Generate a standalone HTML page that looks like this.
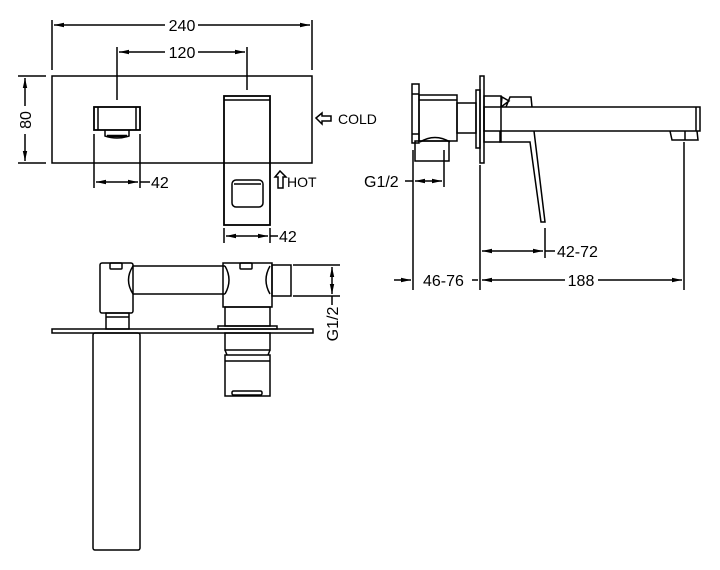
<!DOCTYPE html>
<html><head><style>
html,body{margin:0;padding:0;background:#fff;}
svg{display:block;}
text{font-family:"Liberation Sans",sans-serif;font-size:16px;fill:#000;}
</style></head><body>
<svg width="720" height="570" viewBox="0 0 720 570" xmlns="http://www.w3.org/2000/svg">
<defs>
<marker id="a" markerWidth="10" markerHeight="6" refX="10" refY="3" orient="auto-start-reverse" markerUnits="userSpaceOnUse"><path d="M0,0.8 L10,3 L0,5.2z" fill="#000"/></marker>
</defs>
<g stroke="#000" stroke-width="1.5" fill="none">
<!-- TOP VIEW -->
<rect x="52" y="76" width="260" height="87"/>
<line x1="52" y1="20" x2="52" y2="70"/><line x1="312" y1="20" x2="312" y2="70"/>
<line x1="54" y1="25" x2="165" y2="25" marker-start="url(#a)"/><line x1="198" y1="25" x2="310" y2="25" marker-end="url(#a)"/>
<line x1="117" y1="47" x2="117" y2="100"/><line x1="247" y1="47" x2="247" y2="90"/>
<line x1="119" y1="52" x2="165" y2="52" marker-start="url(#a)"/><line x1="198" y1="52" x2="245" y2="52" marker-end="url(#a)"/>
<line x1="18" y1="76" x2="46" y2="76"/><line x1="18" y1="163" x2="46" y2="163"/>
<line x1="25" y1="78" x2="25" y2="106" marker-start="url(#a)"/><line x1="25" y1="134" x2="25" y2="161" marker-end="url(#a)"/>
<rect x="94" y="107" width="46" height="23" stroke-width="1.8"/>
<line x1="98" y1="107" x2="98" y2="130"/><line x1="136" y1="107" x2="136" y2="130"/>
<path d="M105,130 V136 Q117,140 129,136 V130"/>
<path d="M107,136 H127" stroke-width="2.5"/>
<line x1="94" y1="134" x2="94" y2="188"/><line x1="140" y1="134" x2="140" y2="188"/>
<line x1="96" y1="182" x2="138" y2="182" marker-start="url(#a)" marker-end="url(#a)"/><line x1="140" y1="182" x2="150" y2="182"/>
<rect x="224" y="96" width="46" height="129" stroke-width="1.8"/>
<line x1="224" y1="100" x2="270" y2="100"/>
<rect x="232" y="180" width="31" height="27" rx="4"/>
<line x1="234" y1="184" x2="261" y2="184"/>
<line x1="224" y1="228" x2="224" y2="243"/><line x1="270" y1="228" x2="270" y2="243"/>
<line x1="226" y1="236" x2="268" y2="236" marker-start="url(#a)" marker-end="url(#a)"/><line x1="270" y1="236" x2="278" y2="236"/>
<path d="M316,118 L322,113 V116 H331 V121 H322 V124 Z"/>
<path d="M280,171 L275,177 H278 V188 H283 V177 H286 Z"/>
<!-- SIDE VIEW -->
<rect x="412" y="84" width="7" height="59"/>
<line x1="412" y1="94" x2="419" y2="94"/><line x1="412" y1="134" x2="419" y2="134"/>
<rect x="415" y="141" width="34" height="20"/>
<path d="M420,142 Q435,133 450,142"/>
<rect x="419" y="95" width="38" height="46"/>
<line x1="419" y1="100" x2="457" y2="100"/>
<rect x="457" y="103" width="19" height="30"/>
<rect x="476" y="90" width="4" height="58"/>
<rect x="480" y="76" width="4" height="87"/>
<rect x="484" y="96" width="17" height="46"/>
<rect x="484" y="107" width="216" height="24"/>
<line x1="696" y1="107" x2="696" y2="131"/>
<path d="M501,107 L502,97 L509,101 L501,107"/>
<path d="M506,107 L510,97 H531 L532,107"/>
<path d="M500,131 V142 H530 L541,222 H545 L534,131"/>
<path d="M670,131 L672,140 H698 L697,131"/>
<line x1="685" y1="131" x2="685" y2="140"/>
<line x1="413" y1="150" x2="413" y2="290"/><line x1="444" y1="150" x2="444" y2="187"/>
<line x1="415" y1="181" x2="442" y2="181" marker-start="url(#a)" marker-end="url(#a)"/><line x1="405" y1="181" x2="413" y2="181"/>
<line x1="480" y1="165" x2="480" y2="290"/><line x1="545" y1="228" x2="545" y2="258"/>
<line x1="482" y1="251" x2="543" y2="251" marker-start="url(#a)" marker-end="url(#a)"/><line x1="545" y1="251" x2="555" y2="251"/>
<line x1="684" y1="142" x2="684" y2="290"/>
<line x1="394" y1="280" x2="411" y2="280" marker-end="url(#a)"/>
<line x1="472" y1="280" x2="478" y2="280"/>
<line x1="482" y1="280" x2="565" y2="280" marker-start="url(#a)"/><line x1="598" y1="280" x2="682" y2="280" marker-end="url(#a)"/>
<!-- BOTTOM VIEW -->
<rect x="52" y="329" width="261" height="4"/>
<rect x="93" y="333" width="47" height="217" rx="2"/>
<rect x="100" y="263" width="33" height="50" rx="2"/>
<path d="M133,266 Q124,280 133,294"/>
<rect x="106" y="313" width="23" height="16"/>
<line x1="106" y1="317" x2="129" y2="317"/>
<rect x="110" y="263" width="12" height="6" rx="1"/>
<line x1="133" y1="266" x2="225" y2="266"/><line x1="133" y1="294" x2="225" y2="294"/>
<path d="M223,263 H272 V307 H223 Z"/>
<path d="M225,266 Q233,280 225,294"/><path d="M270,266 Q262,280 270,294"/>
<rect x="240" y="263" width="12" height="6" rx="1"/>
<rect x="272" y="265" width="19" height="31"/>
<rect x="225" y="307" width="45" height="19"/>
<rect x="218" y="326" width="59" height="3"/>
<rect x="225" y="333" width="45" height="17"/>
<path d="M225,350 L227,355 M270,350 L268,355"/>
<rect x="225" y="355" width="45" height="41"/>
<line x1="225" y1="361" x2="270" y2="361"/>
<rect x="232" y="391" width="30" height="4" rx="1.5"/>
<line x1="293" y1="265" x2="340" y2="265"/><line x1="293" y1="296" x2="340" y2="296"/>
<line x1="332" y1="267" x2="332" y2="294" marker-start="url(#a)" marker-end="url(#a)"/><line x1="332" y1="296" x2="332" y2="305"/>
</g>
<text x="182" y="31" text-anchor="middle">240</text>
<text x="182" y="58" text-anchor="middle">120</text>
<text x="0" y="0" text-anchor="middle" transform="translate(31,120) rotate(-90)">80</text>
<text x="151" y="188">42</text>
<text x="279" y="242">42</text>
<text x="338" y="124" style="font-size:14px">COLD</text>
<text x="287" y="187" style="font-size:14px">HOT</text>
<text x="364" y="187">G1/2</text>
<text x="557" y="257">42-72</text>
<text x="423" y="286">46-76</text>
<text x="581" y="286" text-anchor="middle">188</text>
<text x="0" y="0" text-anchor="middle" transform="translate(338,324) rotate(-90)">G1/2</text>
</svg>
</body></html>
